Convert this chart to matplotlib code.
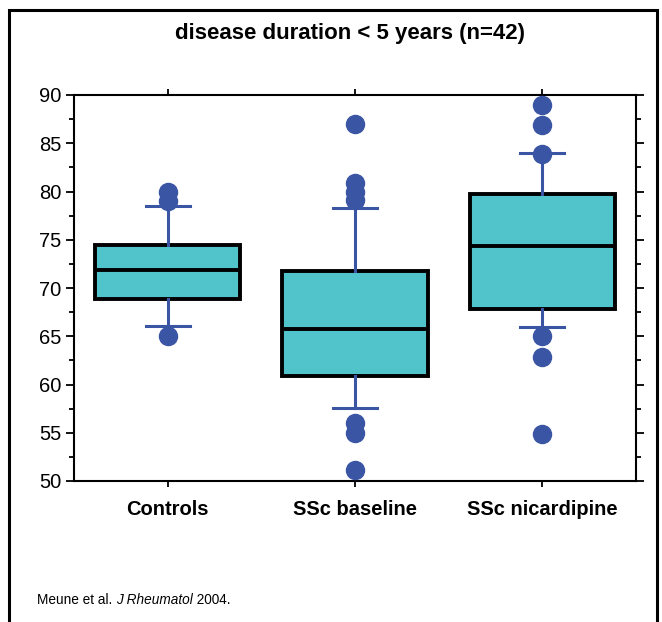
import matplotlib
matplotlib.use("Agg")
import matplotlib.pyplot as plt
from matplotlib.patches import Rectangle
from matplotlib.ticker import MultipleLocator

plt.rcParams['font.family'] = ['Liberation Sans', 'DejaVu Sans']

# ---- data ----
categories = ["Controls", "SSc baseline", "SSc nicardipine"]
q1 = [68.9, 60.9, 67.8]
median = [71.9, 65.8, 74.4]
q3 = [74.5, 71.8, 79.7]
whisker_low = [66.1, 57.6, 66.0]
whisker_high = [78.5, 78.3, 84.0]
outliers = [
    [80.0, 79.0, 65.0],
    [87.0, 80.9, 80.0, 79.1, 56.0, 55.0, 51.1],
    [89.0, 86.9, 83.9, 65.0, 62.8, 54.9],
]
title = "disease duration < 5 years (n=42)"
yticks = [50, 55, 60, 65, 70, 75, 80, 85, 90]
source_prefix = "Meune et al. "
source_journal = "J Rheumatol"
source_suffix = " 2004."

# ---- styles ----
box_fill = "#50C4CA"
blue = "#3A55A4"

fig = plt.figure(figsize=(6.62, 6.22), dpi=100)
ax = fig.add_axes([74/662, 1-481/622, (636-74)/662, (481-95)/622])

stats = []
for i, c in enumerate(categories):
    stats.append(dict(label=c, q1=q1[i], med=median[i], q3=q3[i],
                      whislo=whisker_low[i], whishi=whisker_high[i],
                      fliers=outliers[i]))
positions = list(range(1, len(categories) + 1))
ax.bxp(stats, positions=positions, widths=0.775, patch_artist=True,
       showfliers=True, zorder=3,
       boxprops=dict(facecolor=box_fill, edgecolor="black", linewidth=2.8),
       medianprops=dict(color="black", linewidth=2.8),
       whiskerprops=dict(color=blue, linewidth=2.2),
       capprops=dict(color=blue, linewidth=2.2),
       capwidths=0.235,
       flierprops=dict(marker="o", markersize=13, markerfacecolor=blue,
                       markeredgecolor=blue, linestyle="none"))

ax.set_xlim(0.5, 3.5)
ax.set_ylim(50, 90)
ax.set_yticks(yticks)
ax.yaxis.set_minor_locator(MultipleLocator(2.5))
ax.set_xticks(positions)
ax.set_xticklabels(categories, fontsize=14.5, fontweight="bold")
ax.tick_params(axis="y", which="major", direction="out", length=6, width=1.3,
               labelsize=14.5, left=True, right=True, pad=3)
ax.tick_params(axis="y", which="minor", direction="out", length=3.5, width=1.3,
               left=True, right=True)
ax.tick_params(axis="x", which="major", direction="out", length=4, width=1.3,
               top=True, bottom=True, pad=10)
for s in ax.spines.values():
    s.set_linewidth(1.5)

fig.text(350/662, 1-33/622, title, ha="center", va="center",
         fontsize=16, fontweight="bold")

# footnote with italic journal
fs = 9.8
t1 = fig.text(37/662, 1-600/622, source_prefix, ha="left", va="center", fontsize=fs)
fig.canvas.draw()
r = fig.canvas.get_renderer()
bb = t1.get_window_extent(r)
t2 = fig.text(bb.x1/662, 1-600/622, source_journal, ha="left", va="center",
              fontsize=fs, style="italic")
bb2 = t2.get_window_extent(r)
fig.text(bb2.x1/662, 1-600/622, source_suffix, ha="left", va="center", fontsize=fs)

# figure frame
fig.patches.append(Rectangle((9/662, -0.05), (657-9)/662, 1.05 - 10/622,
                             transform=fig.transFigure, fill=False,
                             edgecolor="black", linewidth=2.2))

fig.savefig("out.png", dpi=100)
